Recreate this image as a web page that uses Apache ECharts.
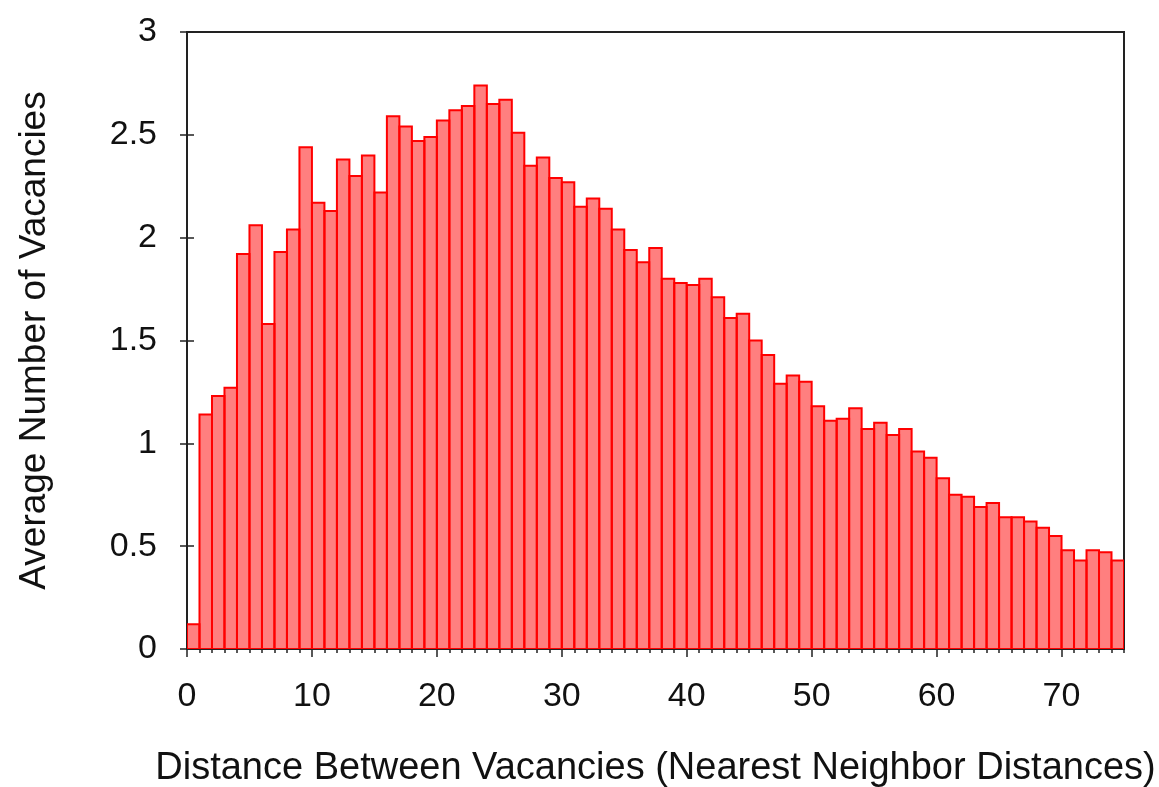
<!DOCTYPE html>
<html>
<head>
<meta charset="utf-8">
<title>Nearest Neighbor Distances</title>
<script src="https://cdn.jsdelivr.net/npm/echarts@6/dist/echarts.min.js"></script>
<style>
  html, body { margin: 0; padding: 0; background: #fff; }
  #chart { width: 1159px; height: 787px; }
</style>
</head>
<body>
<div id="chart"></div>
<script>
// Histogram bins: left edge of each unit-wide bin
const binStarts = [
  0, 1, 2, 3, 4, 5, 6, 7, 8, 9,
  10, 11, 12, 13, 14, 15, 16, 17, 18, 19,
  20, 21, 22, 23, 24, 25, 26, 27, 28, 29,
  30, 31, 32, 33, 34, 35, 36, 37, 38, 39,
  40, 41, 42, 43, 44, 45, 46, 47, 48, 49,
  50, 51, 52, 53, 54, 55, 56, 57, 58, 59,
  60, 61, 62, 63, 64, 65, 66, 67, 68, 69,
  70, 71, 72, 73, 74
];
const binWidth = 1;

// Average number of vacancies found in each distance bin
const avgVacancies = [
  0.12, 1.14, 1.23, 1.27, 1.92, 2.06, 1.58, 1.93, 2.04, 2.44,
  2.17, 2.13, 2.38, 2.30, 2.40, 2.22, 2.59, 2.54, 2.47, 2.49,
  2.57, 2.62, 2.64, 2.74, 2.65, 2.67, 2.51, 2.35, 2.39, 2.29,
  2.27, 2.15, 2.19, 2.14, 2.04, 1.94, 1.88, 1.95, 1.80, 1.78,
  1.77, 1.80, 1.71, 1.61, 1.63, 1.50, 1.43, 1.29, 1.33, 1.30,
  1.18, 1.11, 1.12, 1.17, 1.07, 1.10, 1.04, 1.07, 0.96, 0.93,
  0.83, 0.75, 0.74, 0.69, 0.71, 0.64, 0.64, 0.62, 0.59, 0.55,
  0.48, 0.43, 0.48, 0.47, 0.43
];

// Axis ranges and labelled ticks
const xMin = 0, xMax = 75;
const xMajorTicks = [0, 10, 20, 30, 40, 50, 60, 70];
const yMin = 0, yMax = 3, yStep = 0.5;

const xTitle = 'Distance Between Vacancies (Nearest Neighbor Distances)';
const yTitle = 'Average Number of Vacancies';

const FONT = '"Liberation Sans", Arial, Helvetica, sans-serif';
const AXIS_COLOR = '#222';
const gridRect = { left: 187, right: 35, top: 32, bottom: 138 };

const chart = echarts.init(document.getElementById('chart'), null, { renderer: 'canvas' });

chart.setOption({
  animation: false,
  backgroundColor: '#fff',
  grid: [
    Object.assign({ show: true, borderColor: AXIS_COLOR, borderWidth: 2, backgroundColor: 'transparent', containLabel: false, outerBoundsMode: 'none' }, gridRect),
    Object.assign({ show: false, containLabel: false, outerBoundsMode: 'none' }, gridRect)
  ],
  xAxis: [
    {
      // unit ticks + labels every 10
      gridIndex: 0,
      type: 'value',
      min: xMin, max: xMax, interval: 1,
      position: 'bottom',
      axisLine: { show: true, lineStyle: { color: AXIS_COLOR, width: 2 } },
      axisTick: { show: true, inside: false, length: 4, lineStyle: { color: AXIS_COLOR, width: 1.5 } },
      axisLabel: {
        show: true, margin: 31,
        color: '#111', fontFamily: FONT, fontSize: 34,
        formatter: v => (xMajorTicks.indexOf(v) >= 0 ? String(v) : '')
      },
      splitLine: { show: false },
      name: xTitle,
      nameLocation: 'middle',
      nameGap: 101,
      nameTextStyle: { color: '#111', fontFamily: FONT, fontSize: 38 }
    },
    {
      // longer ticks at the labelled positions
      gridIndex: 1,
      type: 'value',
      min: xMin, max: xMax,
      position: 'bottom',
      axisLine: { show: false },
      axisTick: { show: true, inside: false, length: 8, customValues: xMajorTicks, lineStyle: { color: AXIS_COLOR, width: 1.5 } },
      axisLabel: { show: false },
      splitLine: { show: false }
    }
  ],
  yAxis: [
    {
      gridIndex: 0,
      type: 'value',
      min: yMin, max: yMax, interval: yStep,
      position: 'left',
      axisLine: { show: true, lineStyle: { color: AXIS_COLOR, width: 2 } },
      axisTick: { show: true, inside: true, length: 7, lineStyle: { color: AXIS_COLOR, width: 1.5 } },
      axisLabel: { show: true, margin: 30, color: '#111', fontFamily: FONT, fontSize: 34 },
      splitLine: { show: false },
      name: yTitle,
      nameLocation: 'middle',
      nameGap: 134,
      nameRotate: 90,
      nameTextStyle: { color: '#111', fontFamily: FONT, fontSize: 37 }
    },
    {
      gridIndex: 1,
      type: 'value',
      min: yMin, max: yMax, interval: yStep,
      position: 'right',
      axisLine: { show: false },
      axisTick: { show: true, inside: true, length: 7, lineStyle: { color: AXIS_COLOR, width: 1.5 } },
      axisLabel: { show: false },
      splitLine: { show: false }
    }
  ],
  series: [
    {
      type: 'custom',
      xAxisIndex: 0,
      yAxisIndex: 0,
      clip: true,
      data: binStarts.map((x, i) => [x, avgVacancies[i]]),
      renderItem: function (params, api) {
        const x0 = api.value(0);
        const v = api.value(1);
        const base = api.coord([x0, 0]);
        const top = api.coord([x0 + binWidth, v]);
        return {
          type: 'rect',
          shape: { x: base[0], y: top[1], width: top[0] - base[0], height: base[1] - top[1] },
          style: { fill: 'rgba(255, 0, 0, 0.5)', stroke: '#ff0000', lineWidth: 2 }
        };
      },
      z: 1
    }
  ]
});
</script>
</body>
</html>
